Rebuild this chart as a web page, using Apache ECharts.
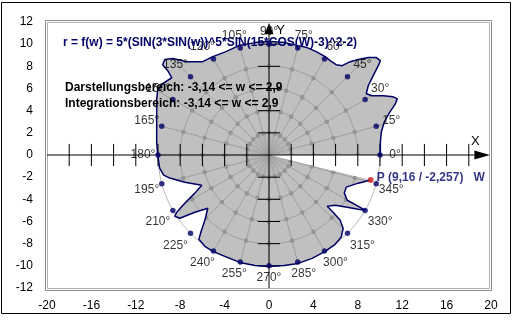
<!DOCTYPE html>
<html><head><meta charset="utf-8">
<script src="https://cdn.jsdelivr.net/npm/echarts@6/dist/echarts.min.js"></script>
<style>html,body{margin:0;padding:0;background:#fff}#c{width:515px;height:324px}</style>
</head><body><div id="c"></div>
<script>
// Outline of r = f(w) (x / y in axis units), traced counter-clockwise
const curveX = [10.03,10.03,10.12,10.39,10.84,11.38,11.56,11.20,10.30,9.30,8.76,8.94,9.39,9.85,10.03,9.67,8.94,8.04,7.32,6.59,6.05,5.51,5.06,4.25,3.43,2.62,1.45,0.09,-1.26,-2.71,-3.88,-5.06,-5.96,-7.41,-8.67,-9.39,-9.58,-9.12,-8.76,-9.58,-10.03,-10.12,-10.12,-10.12,-10.12,-10.03,-9.85,-9.49,-8.94,-7.59,-6.05,-6.68,-7.59,-8.31,-8.49,-8.04,-6.68,-5.51,-5.78,-6.14,-6.32,-5.78,-5.06,-3.97,-2.62,-1.26,0,1.36,2.62,3.88,5.06,5.96,6.50,6.68,6.41,5.78,5.24,5.96,7.05,8.04,8.67,7.86,7.05,6.78,6.96,8.04,9.16];
const curveY = [0,1.09,2.08,2.99,3.80,4.62,5.07,5.25,5.34,5.34,5.53,6.25,7.16,8.06,8.51,8.79,8.79,8.61,8.42,8.06,8.15,8.51,8.88,9.33,9.69,9.87,10.14,10.24,10.14,9.87,9.33,8.88,8.42,8.42,8.70,8.61,8.15,7.61,6.97,6.43,5.89,4.98,3.62,2.45,1.18,0,-1.18,-1.81,-2.08,-2.45,-2.72,-3.44,-4.35,-5.16,-5.53,-5.71,-5.16,-4.80,-5.89,-6.97,-7.61,-8.24,-8.70,-9.15,-9.69,-9.96,-10.05,-9.96,-9.78,-9.33,-8.70,-8.06,-7.43,-6.61,-5.89,-5.16,-4.62,-4.53,-4.71,-4.89,-4.98,-4.53,-4.08,-3.44,-2.90,-2.54,-2.257];
const pointP = [9.16, -2.257];
const pointPLabel = 'P (9,16 / -2,257)   W';
const gridAngles = [0,15,30,45,60,75,90,105,120,135,150,165,180,195,210,225,240,255,270,285,300,315,330,345];
const angleLabels = ['0°','15°','30°','45°','60°','75°','90°','105°','120°','135°','150°','165°','180°','195°','210°','225°','240°','255°','270°','285°','300°','315°','330°','345°'];
const ringRadii = [2,4,6,8];
const outerRadius = 10;
const innerFanRadius = 2;
const innerFanStep = 5;
const crossTicksX = [-18,-16,-14,-12,-10,-8,-6,-4,-2,2,4,6,8,10,12,14,16,18];
const crossTicksY = [-10,-8,-6,-4,-2,2,4,6,8,10];
const textLines = [
  'r = f(w) = 5*(SIN(3*SIN(w))^5*SIN(15*COS(W)-3)^2-2)',
  'Darstellungsbereich: -3,14 <= w <= 2,9',
  'Integrationsbereich: -3,14 <= w <= 2,9'
];

const FONT = '"Liberation Sans", Arial, sans-serif';
const rad = a => a * Math.PI / 180;
const polar = (r, a) => [r * Math.cos(rad(a)), r * Math.sin(rad(a))];

const chart = echarts.init(document.getElementById('c'), null, {renderer: 'canvas'});

function underlay(params, api) {
  const o = api.coord([0, 0]);
  const rpx = v => api.coord([v, 0])[0] - o[0];
  const shapePts = curveX.map((x, i) => api.coord([x, curveY[i]]));
  shapePts.push(o);
  const clipped = [];
  for (let a = 0; a < 360; a += innerFanStep) {
    if (a % 15 === 0) continue;
    const p = api.coord(polar(innerFanRadius, a));
    clipped.push({type: 'line', shape: {x1: o[0], y1: o[1], x2: p[0], y2: p[1]}, style: {stroke: '#acacac', lineWidth: 0.8}});
  }
  ringRadii.forEach(r => clipped.push({type: 'circle', shape: {cx: o[0], cy: o[1], r: rpx(r)}, style: {fill: null, stroke: '#9e9e9e', lineWidth: 1}}));
  gridAngles.forEach(a => {
    const p = api.coord(polar(outerRadius + 3, a));
    clipped.push({type: 'line', shape: {x1: o[0], y1: o[1], x2: p[0], y2: p[1]}, style: {stroke: '#9e9e9e', lineWidth: 1}});
  });
  gridAngles.forEach(a => ringRadii.forEach(r => {
    const p = api.coord(polar(r, a));
    clipped.push({type: 'circle', shape: {cx: p[0], cy: p[1], r: 2.3}, style: {fill: '#959595'}});
  }));
  return {
    type: 'group',
    children: [
      {type: 'circle', shape: {cx: o[0], cy: o[1], r: rpx(outerRadius)}, style: {fill: null, stroke: '#b8b8b8', lineWidth: 1}},
      {type: 'polygon', shape: {points: shapePts}, style: {fill: '#c0c0c0'}},
      {type: 'group', children: clipped, clipPath: {type: 'polygon', shape: {points: shapePts}}}
    ]
  };
}

function crossAxes(params, api) {
  const ch = [];
  const xa = api.coord([-20, 0]), xb = api.coord([18.5, 0]), xt = api.coord([20, 0]);
  const ya = api.coord([0, -12]), yb = api.coord([0, 10.9]), yt = api.coord([0, 12]);
  ch.push({type: 'line', shape: {x1: xa[0], y1: xa[1], x2: xb[0], y2: xb[1]}, style: {stroke: '#000', lineWidth: 1}});
  ch.push({type: 'polygon', shape: {points: [[xb[0], xb[1] - 4.5], [xt[0] - 1, xt[1]], [xb[0], xb[1] + 4.5]]}, style: {fill: '#000'}});
  ch.push({type: 'line', shape: {x1: ya[0], y1: ya[1], x2: yb[0], y2: yb[1]}, style: {stroke: '#000', lineWidth: 1}});
  ch.push({type: 'polygon', shape: {points: [[yb[0] - 4.5, yb[1]], [yt[0], yt[1] + 1], [yb[0] + 4.5, yb[1]]]}, style: {fill: '#000'}});
  crossTicksX.forEach(t => {
    const p1 = api.coord([t, -1]), p2 = api.coord([t, 1]);
    ch.push({type: 'line', shape: {x1: p1[0], y1: p1[1], x2: p2[0], y2: p2[1]}, style: {stroke: '#000', lineWidth: 1}});
  });
  crossTicksY.forEach(t => {
    const p1 = api.coord([-1, t]), p2 = api.coord([1, t]);
    ch.push({type: 'line', shape: {x1: p1[0], y1: p1[1], x2: p2[0], y2: p2[1]}, style: {stroke: '#000', lineWidth: 1}});
  });
  const xl = api.coord([18.6, 1.2]), yl = api.coord([1.05, 11.2]);
  ch.push({type: 'text', x: xl[0], y: xl[1], style: {text: 'X', font: '13px ' + FONT, fill: '#000', align: 'center', verticalAlign: 'middle'}});
  ch.push({type: 'text', x: yl[0], y: yl[1], style: {text: 'Y', font: '13px ' + FONT, fill: '#000', align: 'center', verticalAlign: 'middle'}});
  return {type: 'group', children: ch};
}

const dotData = gridAngles.map((a, i) => {
  const c = Math.cos(rad(a)), s = Math.sin(rad(a));
  const dx = 15 * Math.sign(c) * Math.min(1, Math.abs(c) * 1.5);
  const dy = -12 * Math.sign(s) * Math.min(1, Math.abs(s) * 1.8);
  return {value: polar(outerRadius, a), name: angleLabels[i], label: {offset: [Math.round(dx), Math.round(dy)]}};
});

chart.setOption({
  animation: false,
  grid: {left: 47, right: 24, top: 22, bottom: 36, show: false},
  xAxis: {type: 'value', min: -20, max: 20, interval: 4, axisLine: {show: false}, axisTick: {show: false}, splitLine: {show: false},
    axisLabel: {color: '#000', fontSize: 12, fontFamily: FONT, margin: 12}},
  yAxis: {type: 'value', min: -12, max: 12, interval: 2, axisLine: {show: false}, axisTick: {show: false}, splitLine: {show: false},
    axisLabel: {color: '#000', fontSize: 12, fontFamily: FONT, margin: 14}},
  graphic: [
    {type: 'rect', shape: {x: 1.5, y: 2.5, width: 509, height: 311}, style: {fill: null, stroke: '#000', lineWidth: 1}, z: 0},
    {type: 'rect', shape: {x: 45.5, y: 20.5, width: 446, height: 270}, style: {fill: null, stroke: '#8c8c8c', lineWidth: 1}, z: 0},
    {type: 'rect', shape: {x: 47.5, y: 22.5, width: 442, height: 266}, style: {fill: null, stroke: '#b0b0b0', lineWidth: 1}, z: 0},
    {type: 'text', left: 63, top: 37, style: {text: textLines[0], font: 'bold 12px ' + FONT, fill: '#000066'}, z: 10},
    {type: 'text', left: 65, top: 82, style: {text: textLines[1], font: 'bold 12px ' + FONT, fill: '#000'}, z: 10},
    {type: 'text', left: 65, top: 98, style: {text: textLines[2], font: 'bold 12px ' + FONT, fill: '#000'}, z: 10}
  ],
  series: [
    {type: 'custom', renderItem: underlay, data: [[0, 0]], silent: true, z: 1},
    {type: 'custom', renderItem: crossAxes, data: [[0, 0]], silent: true, z: 2},
    {type: 'line', data: curveX.map((x, i) => [x, curveY[i]]), showSymbol: false, symbol: 'none', smooth: false,
      lineStyle: {color: '#000066', width: 1.5}, silent: true, z: 3},
    {type: 'scatter', data: dotData, symbol: 'circle', symbolSize: 5.5, itemStyle: {color: '#000066'}, silent: true, z: 4,
      label: {show: true, position: 'inside', formatter: p => p.name, color: '#000', fontSize: 12, fontFamily: FONT, align: 'center', verticalAlign: 'middle'}},
    {type: 'scatter', data: [pointP], symbol: 'circle', symbolSize: 6, itemStyle: {color: '#d02020'}, silent: true, z: 5,
      label: {show: true, position: 'right', distance: 3, offset: [0, -2], formatter: pointPLabel, color: '#000066', fontWeight: 'bold', fontSize: 12, fontFamily: FONT}}
  ]
});
</script></body></html>
